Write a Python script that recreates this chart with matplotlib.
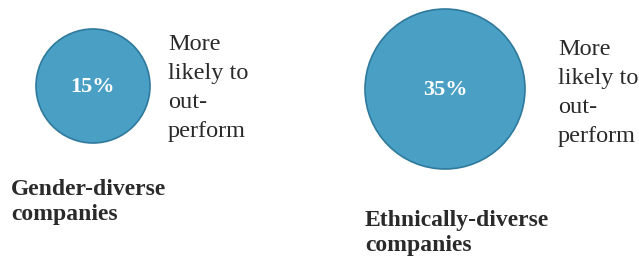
from matplotlib import pyplot as plt
from matplotlib.patches import Circle

# data
groups = ['Gender-diverse\ncompanies', 'Ethnically-diverse\ncompanies']
pct = [15, 35]
note = 'More\nlikely to\nout-\nperform'

# layout (pixel coords, y down)
centers = [(93, 86), (445, 89)]
radii = [57, 80]
note_xy = [(168, 34), (558, 39)]
label_xy = [(11, 179), (365, 210)]

fill = '#4a9fc4'
edge = '#2f7a9c'

fig = plt.figure(figsize=(6.39, 2.57), dpi=100)
ax = fig.add_axes([0, 0, 1, 1])
ax.set_xlim(0, 639)
ax.set_ylim(257, 0)
ax.set_aspect('equal')
ax.axis('off')

for i in range(len(pct)):
    cx, cy = centers[i]
    ax.add_patch(Circle((cx, cy), radii[i], facecolor=fill, edgecolor=edge, lw=1.2))
    ax.text(cx, cy + 1, f'{pct[i]}%', color='white', fontsize=16, fontweight='bold',
            family='Liberation Serif', ha='center', va='center')
    ax.text(*note_xy[i], note, fontsize=17.5, family='Liberation Serif', color='#2a2a2a',
            ha='left', va='top', linespacing=1.5)
    ax.text(*label_xy[i], groups[i], fontsize=17, fontweight='bold', family='Liberation Serif',
            color='#2a2a2a', ha='left', va='top', linespacing=1.28)

fig.savefig('out.png', dpi=100)
